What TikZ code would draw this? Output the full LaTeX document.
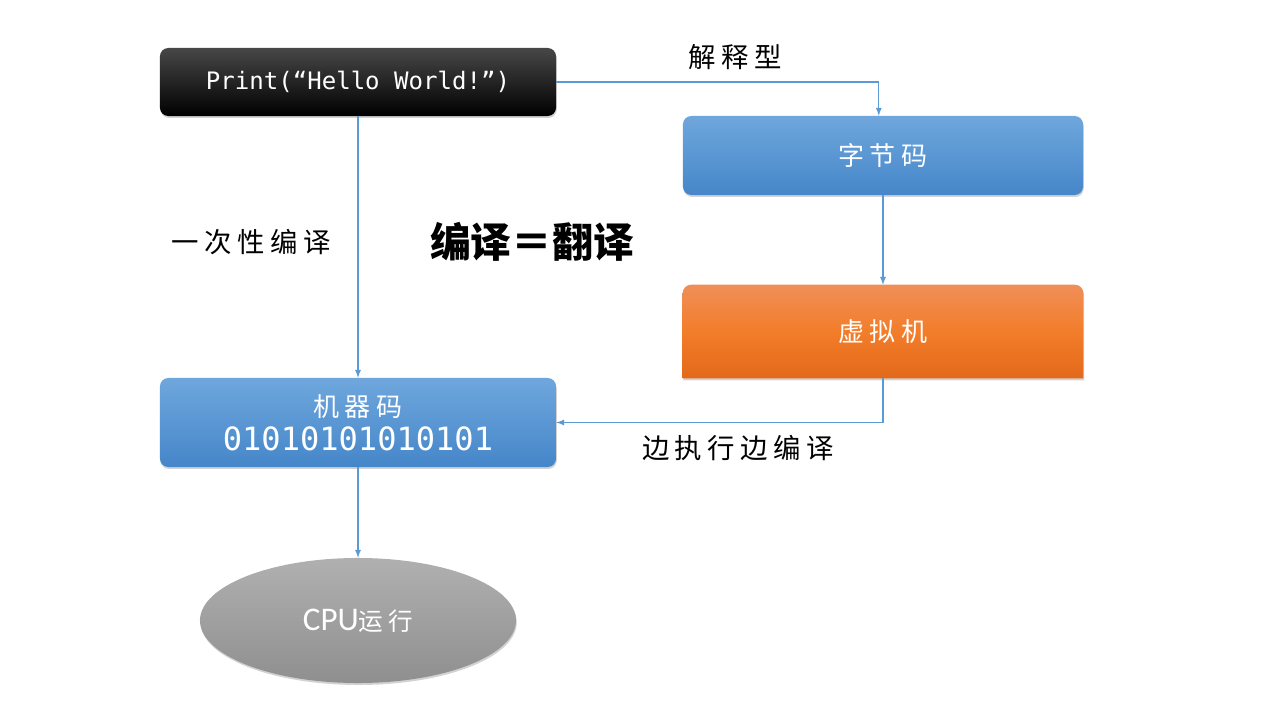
\documentclass[tikz,border=0pt]{standalone}
\usepackage{fontspec}
\setmonofont{DejaVu Sans Mono}
\newfontfamily\cjk{Noto Sans CJK SC}
\newfontfamily\cjkwide[LetterSpace=20]{Noto Sans CJK SC}
\newfontfamily\cpufont{Carlito}
\usetikzlibrary{shapes.geometric,shadows,backgrounds}
\definecolor{linkblue}{HTML}{5B9BD5}
\definecolor{bluetop}{HTML}{6FA7DD}
\definecolor{bluebot}{HTML}{4586C9}
\definecolor{vmtop}{HTML}{F08F58}
\definecolor{vmmid}{HTML}{F27D2A}
\definecolor{vmbot}{HTML}{E3691A}
\definecolor{cputop}{HTML}{B0B0B0}
\definecolor{cpubot}{HTML}{8F8F8F}

\begin{document}
\begin{tikzpicture}[x=0.025cm, y=-0.025cm,
    softshadow/.style={drop shadow={opacity=0.35, shadow xshift=0.5pt, shadow yshift=-1.4pt}},
    box/.style={rectangle, rounded corners=6pt, inner sep=0pt, text=white, softshadow},
    bluebox/.style={box, top color=bluetop, bottom color=bluebot},
    link/.style={->, >=latex, line width=0.9pt, color=linkblue},
    tag/.style={font=\fontsize{19.5}{24}\selectfont\cjkwide}]

    \begin{pgfonlayer}{background}
        \fill[white] (0,0) rectangle (1280,720);
    \end{pgfonlayer}
    \useasboundingbox (0,0) rectangle (1280,720);

    % the boxes
    \node[box, top color=black!72, bottom color=black, minimum width=9.9cm, minimum height=1.7cm,
        font=\fontsize{17.1}{20}\selectfont\ttfamily] (print) at (358,82) {Print(“Hello World!”)};
    \node[bluebox, minimum width=10cm, minimum height=1.975cm,
        font=\fontsize{18.5}{20}\selectfont\cjkwide] (bytecode) at (883,155.5) {字节码};
    \node[minimum width=10cm, minimum height=2.325cm, inner sep=0pt, text=white,
        font=\fontsize{18.5}{20}\selectfont\cjkwide] (vm) at (883,331.5) {虚拟机};
    \node[bluebox, minimum width=9.9cm, minimum height=2.225cm, align=center] (machine) at (358,422.5)
        {{\fontsize{18.5}{20}\selectfont\cjkwide 机器码}\\[5pt]{\fontsize{22.8}{24}\selectfont\ttfamily 01010101010101}};
    \node[ellipse, top color=cputop, bottom color=cpubot, minimum width=7.9cm, minimum height=3.125cm,
        text=white, softshadow] (cpu) at (358,620.5)
        {{\fontsize{23.5}{26}\selectfont\cpufont CPU}{\fontsize{17.5}{20}\selectfont\cjkwide 运行}};

    % only the top corners of the vm box are round
    \begin{pgfonlayer}{background}
        \shade[top color=vmtop, bottom color=vmbot, middle color=vmmid, softshadow]
            (vm.south west) -- ([yshift=-6pt]vm.north west) arc[start angle=180, end angle=90, radius=6pt]
            -- ([xshift=-6pt]vm.north east) arc[start angle=90, end angle=0, radius=6pt]
            -- (vm.south east) -- cycle;
    \end{pgfonlayer}

    % labels
    \node[tag] (interp) at (735,57) {解释型};
    \node[tag] (once) at (251,242) {一次性编译};
    \node[font=\fontsize{29}{32}\selectfont\bfseries\cjk] (same) at (532,242) {编译＝翻译};
    \node[tag] (jit) at (738,448) {边执行边编译};

    % arrows
    \draw[link] (print.east) -| ([xshift=-3pt]bytecode.north);
    \draw[link] (bytecode.south) -- (vm.north);
    \draw[link] (vm.south) |- (machine.east);
    \draw[link] (print.south) -- (machine.north);
    \draw[link] (machine.south) -- (cpu.north);

\end{tikzpicture}
\end{document}
